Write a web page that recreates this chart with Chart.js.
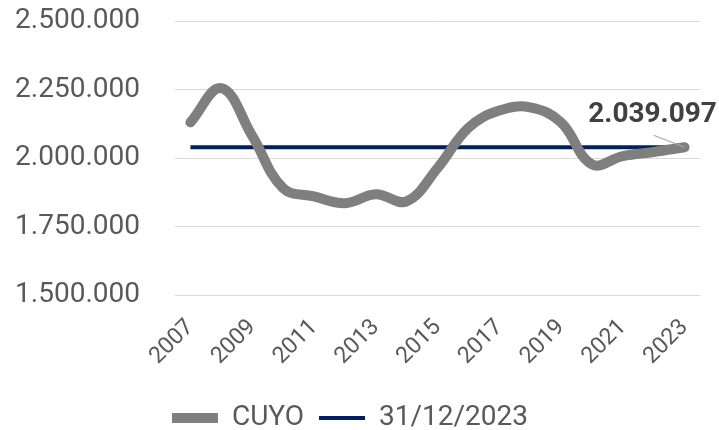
<!DOCTYPE html>
<html>
<head>
<meta charset="utf-8">
<script src="https://cdn.jsdelivr.net/npm/chart.js@4.4.1/dist/chart.umd.min.js"></script>
<style>
  body { margin: 0; background: #fff; }
</style>
</head>
<body>
<canvas id="cuyoChart" width="719" height="430"></canvas>
<script>
// years and values
const years = ["2007","2008","2009","2010","2011","2012","2013","2014","2015","2016","2017","2018","2019","2020","2021","2022","2023"];
const cuyo = [2130000, 2255000, 2081000, 1890000, 1860000, 1835000, 1868000, 1842000, 1963000, 2110000, 2173000, 2185000, 2130000, 1977000, 2007000, 2022000, 2039097];
const refValue = 2039097; // level at 31/12/2023
const refLine = years.map(() => refValue);
const yTicks = [1500000, 1750000, 2000000, 2250000, 2500000];

// 2039097 -> "2.039.097"
function fmt(n) {
  return String(Math.round(n)).replace(/\B(?=(\d{3})+(?!\d))/g, ".");
}

const textColor = "#595959";

// label + leader line for the last value
const lastLabel = {
  id: "lastLabel",
  afterDatasetsDraw(chart) {
    const meta = chart.getDatasetMeta(0);
    const pt = meta.data[meta.data.length - 1];
    const ctx = chart.ctx;
    ctx.save();
    ctx.strokeStyle = "#a6a6a6";
    ctx.lineWidth = 1.2;
    ctx.beginPath();
    ctx.moveTo(pt.x - 31, pt.y - 12);
    ctx.lineTo(pt.x, pt.y);
    ctx.stroke();
    ctx.fillStyle = "#404040";
    ctx.font = "bold 28px Roboto";
    ctx.textAlign = "center";
    ctx.textBaseline = "alphabetic";
    ctx.fillText(fmt(cuyo[cuyo.length - 1]), pt.x - 32, pt.y - 25);
    ctx.restore();
  }
};

new Chart("cuyoChart", {
  type: "line",
  data: {
    labels: years,
    datasets: [
      {
        label: "CUYO",
        data: cuyo,
        borderColor: "#7f7f7f",
        backgroundColor: "#7f7f7f",
        borderWidth: 10,
        borderCapStyle: "round",
        tension: 0.4,
        pointRadius: 0,
        pointStyle: "line"
      },
      {
        label: "31/12/2023",
        data: refLine,
        borderColor: "#002060",
        backgroundColor: "#002060",
        borderWidth: 4,
        pointRadius: 0,
        pointStyle: "line"
      }
    ]
  },
  options: {
    responsive: false,
    animation: false,
    layout: { padding: { top: 21, right: 19, bottom: -12 } },
    plugins: {
      tooltip: { enabled: false },
      legend: {
        position: "bottom",
        labels: {
          usePointStyle: true,
          pointStyleWidth: 46,
          color: textColor,
          font: { family: "Roboto", size: 28 },
          padding: 15
        }
      }
    },
    scales: {
      x: {
        offset: true,
        grid: { display: false },
        border: { display: false },
        ticks: {
          autoSkip: false,
          maxRotation: 45,
          minRotation: 45,
          padding: 11,
          color: textColor,
          font: { family: "Roboto", size: 23 },
          callback: (v, i) => (i % 2 === 0 ? years[i] : "")
        },
        afterFit: (scale) => { scale.height = 94; }
      },
      y: {
        min: 1500000,
        max: 2500000,
        border: { display: false },
        grid: { color: "#d9d9d9", lineWidth: 1, drawTicks: true, tickLength: 35, tickColor: "rgba(0,0,0,0)" },
        afterBuildTicks: (scale) => { scale.ticks = yTicks.map(v => ({ value: v })); },
        ticks: {
          color: textColor,
          padding: 0,
          font: { family: "Roboto", size: 28 },
          callback: (v) => fmt(v)
        },
        afterFit: (scale) => { scale.width = 175; }
      }
    }
  },
  plugins: [lastLabel]
});
</script>
</body>
</html>
